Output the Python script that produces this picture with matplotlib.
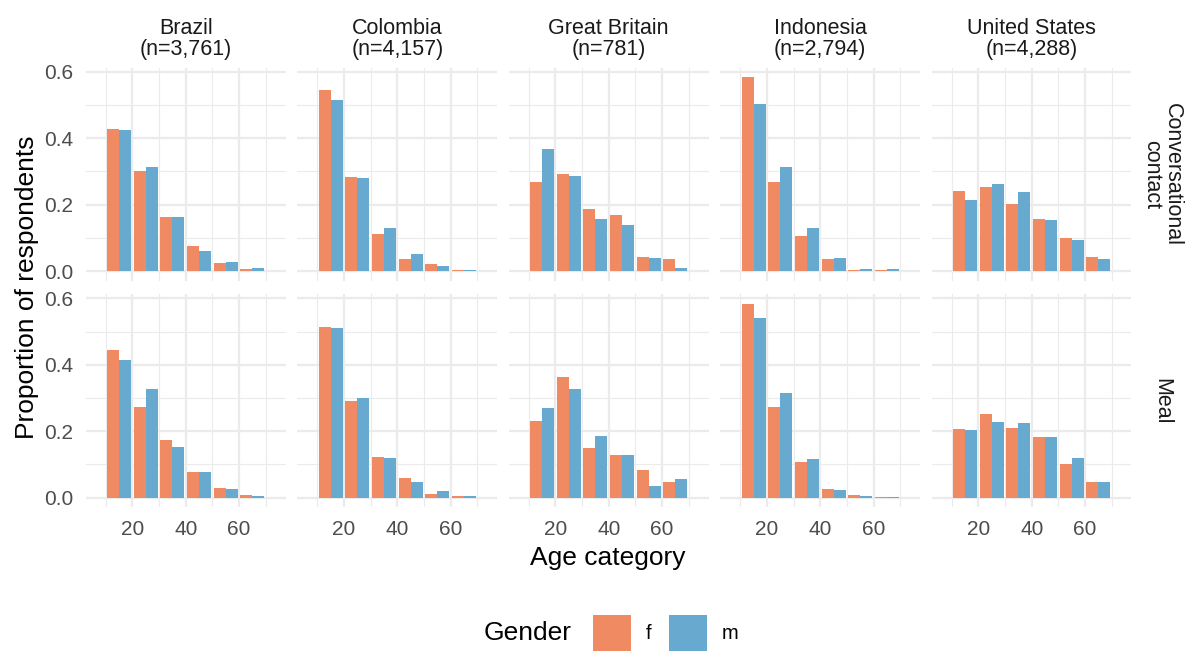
import matplotlib
matplotlib.use("Agg")
import matplotlib.pyplot as plt
from matplotlib.patches import Patch
from matplotlib.ticker import FormatStrFormatter

plt.rcParams['font.family'] = ['Liberation Sans', 'DejaVu Sans']

# data
ages = [15, 25, 35, 45, 55, 65]
countries = ["Brazil", "Colombia", "Great Britain", "Indonesia", "United States"]
n_labels = ["3,761", "4,157", "781", "2,794", "4,288"]
contexts = ["Conversational\ncontact", "Meal"]
genders = ["f", "m"]

# one row per country, one value per age category
conv_f = [
    [0.429, 0.302, 0.164, 0.076, 0.025, 0.006],
    [0.544, 0.284, 0.112, 0.036, 0.021, 0.003],
    [0.269, 0.293, 0.187, 0.169, 0.042, 0.036],
    [0.583, 0.269, 0.106, 0.036, 0.003, 0.003],
    [0.242, 0.254, 0.202, 0.157, 0.100, 0.042],
]
conv_m = [
    [0.426, 0.314, 0.164, 0.060, 0.027, 0.009],
    [0.516, 0.281, 0.130, 0.051, 0.015, 0.003],
    [0.368, 0.287, 0.157, 0.139, 0.039, 0.009],
    [0.504, 0.314, 0.130, 0.039, 0.006, 0.006],
    [0.214, 0.263, 0.239, 0.154, 0.094, 0.036],
]
meal_f = [
    [0.444, 0.273, 0.174, 0.077, 0.029, 0.008],
    [0.514, 0.291, 0.122, 0.059, 0.011, 0.005],
    [0.231, 0.363, 0.149, 0.128, 0.083, 0.047],
    [0.583, 0.273, 0.107, 0.026, 0.008, 0.002],
    [0.207, 0.252, 0.210, 0.183, 0.101, 0.047],
]
meal_m = [
    [0.414, 0.327, 0.153, 0.077, 0.026, 0.005],
    [0.511, 0.300, 0.119, 0.047, 0.020, 0.005],
    [0.270, 0.327, 0.186, 0.128, 0.035, 0.056],
    [0.541, 0.315, 0.116, 0.023, 0.005, 0.002],
    [0.204, 0.228, 0.225, 0.183, 0.119, 0.047],
]

colors = {"f": "#EF8A62", "m": "#67A9CF"}
grid_col = "#EBEBEB"

data = [[conv_f, conv_m], [meal_f, meal_m]]

fig = plt.figure(figsize=(11.9, 6.54), dpi=100)
axes = fig.subplots(2, 5, sharex=True, sharey=True)
fig.subplots_adjust(left=86/1190, right=1131.5/1190, top=1-67.7/654,
                    bottom=1-507.4/654, wspace=0.06, hspace=0.063)

# ggplot style limits: bars span 10.5..69.5, 5% expansion
bar_w = 4.5
x_lo = ages[0] - 2*bar_w
x_hi = ages[-1] + 2*bar_w
x_pad = 0.05*(x_hi - x_lo)
y_max = max(max(max(r) for r in s) for pair in data for s in pair)
y_pad = 0.05*y_max

for r in range(2):
    for c in range(5):
        ax = axes[r, c]
        f_vals = data[r][0][c]
        m_vals = data[r][1][c]
        ax.bar([a - bar_w/2 for a in ages], f_vals, width=bar_w,
               color=colors["f"], linewidth=0, zorder=2)
        ax.bar([a + bar_w/2 for a in ages], m_vals, width=bar_w,
               color=colors["m"], linewidth=0, zorder=2)

        ax.set_xlim(x_lo - x_pad, x_hi + x_pad)
        ax.set_ylim(-y_pad, y_max + y_pad)
        ax.set_xticks([20, 40, 60])
        ax.set_xticks([10, 30, 50, 70], minor=True)
        ax.set_yticks([0.0, 0.2, 0.4, 0.6])
        ax.set_yticks([0.1, 0.3, 0.5], minor=True)
        ax.yaxis.set_major_formatter(FormatStrFormatter('%.1f'))
        ax.grid(which='major', color=grid_col, linewidth=1.6, zorder=0)
        ax.grid(which='minor', color=grid_col, linewidth=0.8, zorder=0)
        ax.set_axisbelow(True)
        for s in ax.spines.values():
            s.set_visible(False)
        ax.tick_params(which='both', length=0, labelsize=15,
                       labelcolor='#4D4D4D')
        ax.tick_params(axis='x', pad=9)
        ax.tick_params(axis='y', pad=9)

        if r == 0:
            ax.set_title(countries[c] + "\n(n=" + n_labels[c] + ")",
                         fontsize=15.5, color='#1A1A1A', pad=9, linespacing=1.0)
        if c == 4:
            ax.text(1.153, 0.5, contexts[r], transform=ax.transAxes,
                    rotation=-90, ha='center', va='center', fontsize=15.5,
                    color='#1A1A1A', linespacing=1.0)

# axis titles
fig.text(27/1190, 1-287.5/654, "Proportion of respondents", rotation=90,
         ha='center', va='center', fontsize=19)
fig.text(608/1190, 1-558/654, "Age category", ha='center', va='center',
         fontsize=19)

# legend at the bottom, title on the left
fig.text(484/1190, 1-633/654, "Gender", ha='left', va='center', fontsize=19)
handles = [Patch(facecolor=colors[g], edgecolor='none', label=g) for g in genders]
fig.legend(handles=handles, loc='center left',
           bbox_to_anchor=(593/1190, 1-633/654), ncol=2, frameon=False,
           fontsize=14.5, handlelength=1.9, handleheight=2.4,
           handletextpad=0.7, columnspacing=0.9, borderpad=0, borderaxespad=0)

fig.savefig("out.png", dpi=100, facecolor='white')
